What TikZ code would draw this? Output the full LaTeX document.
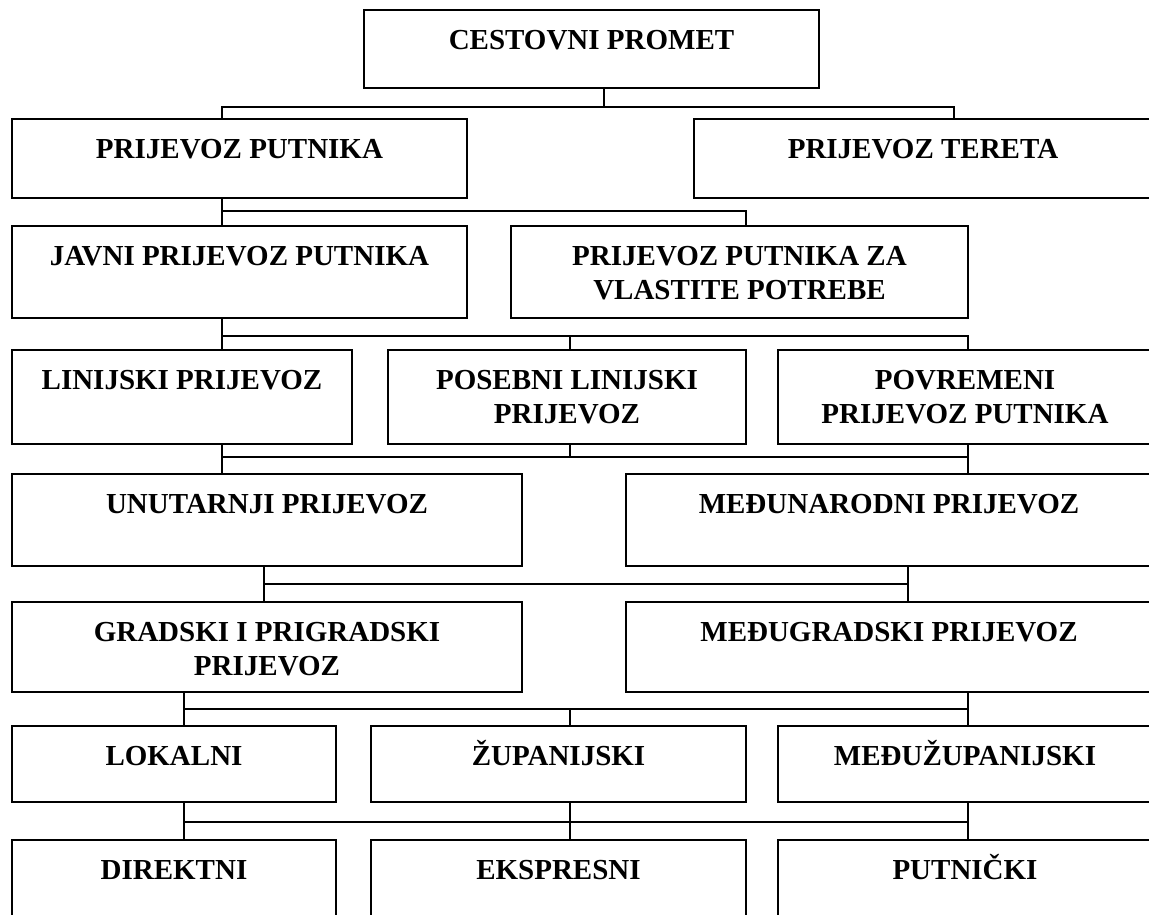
\documentclass[tikz,border=0pt]{standalone}
\usepackage{fontspec}
\setmainfont{Liberation Serif}
\usepackage{tikz}

\tikzset{
  box/.style={draw, line width=1.5pt, anchor=north west, inner sep=0pt, outer sep=0pt},
  txt/.style={anchor=north, inner sep=0pt, yshift=-20pt, align=center,
    font=\fontsize{29}{34}\selectfont\bfseries},
  conn/.style={line width=1.2pt}
}

\begin{document}
\begin{tikzpicture}[x=1pt, y=-1pt]
  \clip (0,0) rectangle (1149,914);
  \node[box, minimum width=455pt, minimum height=78pt, label={[txt]north:CESTOVNI PROMET}] (cp) at (364,10) {};
  \node[box, minimum width=455pt, minimum height=79pt, label={[txt]north:PRIJEVOZ PUTNIKA}] (pp) at (12,119) {};
  \node[box, minimum width=458pt, minimum height=79pt, label={[txt]north:PRIJEVOZ TERETA}] (pt) at (694,119) {};
  \node[box, minimum width=455pt, minimum height=92pt, label={[txt]north:JAVNI PRIJEVOZ PUTNIKA}] (jpp) at (12,226) {};
  \node[box, minimum width=457pt, minimum height=92pt, label={[txt]north:PRIJEVOZ PUTNIKA ZA\\VLASTITE POTREBE}] (vp) at (511,226) {};
  \node[box, minimum width=340pt, minimum height=94pt, label={[txt]north:LINIJSKI PRIJEVOZ}] (lin) at (12,350) {};
  \node[box, minimum width=358pt, minimum height=94pt, label={[txt]north:POSEBNI LINIJSKI\\PRIJEVOZ}] (plin) at (388,350) {};
  \node[box, minimum width=374pt, minimum height=94pt, label={[txt]north:POVREMENI\\PRIJEVOZ PUTNIKA}] (pov) at (778,350) {};
  \node[box, minimum width=510pt, minimum height=92pt, label={[txt]north:UNUTARNJI PRIJEVOZ}] (unu) at (12,474) {};
  \node[box, minimum width=526pt, minimum height=92pt, label={[txt]north:MEĐUNARODNI PRIJEVOZ}] (med) at (626,474) {};
  \node[box, minimum width=510pt, minimum height=90pt, label={[txt]north:GRADSKI I PRIGRADSKI\\PRIJEVOZ}] (grad) at (12,602) {};
  \node[box, minimum width=526pt, minimum height=90pt, label={[txt]north:MEĐUGRADSKI PRIJEVOZ}] (mgr) at (626,602) {};
  \node[box, minimum width=324pt, minimum height=76pt, label={[txt]north:LOKALNI}] (lok) at (12,726) {};
  \node[box, minimum width=375pt, minimum height=76pt, label={[txt, text height=19pt]north:ŽUPANIJSKI}] (zup) at (371,726) {};
  \node[box, minimum width=374pt, minimum height=76pt, label={[txt, text height=19pt]north:MEĐUŽUPANIJSKI}] (mzup) at (778,726) {};
  \node[box, minimum width=324pt, minimum height=90pt, label={[txt]north:DIREKTNI}] (dir) at (12,840) {};
  \node[box, minimum width=375pt, minimum height=90pt, label={[txt]north:EKSPRESNI}] (eks) at (371,840) {};
  \node[box, minimum width=374pt, minimum height=90pt, label={[txt, text height=19pt]north:PUTNIČKI}] (put) at (778,840) {};

  % bus corners
  \coordinate (a1) at (222,107); \coordinate (a2) at (604,107); \coordinate (a3) at (954,107);
  \coordinate (b1) at (222,211); \coordinate (b2) at (746,211);
  \coordinate (c1) at (222,336); \coordinate (c2) at (570,336); \coordinate (c3) at (968,336);
  \coordinate (d1) at (222,457); \coordinate (d2) at (570,457); \coordinate (d3) at (968,457);
  \coordinate (e1) at (264,584); \coordinate (e2) at (908,584);
  \coordinate (f1) at (184,709); \coordinate (f2) at (570,709); \coordinate (f3) at (968,709);
  \coordinate (g1) at (184,822); \coordinate (g2) at (570,822); \coordinate (g3) at (968,822);

  % Connect the nodes
  \draw[conn] (a2 |- cp.south) -- (a2);
  \draw[conn] (a1 |- pp.north) -- (a1) -- (a3) -- (a3 |- pt.north);
  \draw[conn] (b1 |- pp.south) -- (b1 |- jpp.north);
  \draw[conn] (b1) -- (b2) -- (b2 |- vp.north);
  \draw[conn] (c1 |- jpp.south) -- (c1 |- lin.north);
  \draw[conn] (c1) -- (c3) -- (c3 |- pov.north);
  \draw[conn] (c2) -- (c2 |- plin.north);
  \draw[conn] (d1 |- lin.south) -- (d1 |- unu.north);
  \draw[conn] (d2 |- plin.south) -- (d2);
  \draw[conn] (d3 |- pov.south) -- (d3 |- med.north);
  \draw[conn] (d1) -- (d3);
  \draw[conn] (e1 |- unu.south) -- (e1 |- grad.north);
  \draw[conn] (e2 |- med.south) -- (e2 |- mgr.north);
  \draw[conn] (e1) -- (e2);
  \draw[conn] (f1 |- grad.south) -- (f1 |- lok.north);
  \draw[conn] (f3 |- mgr.south) -- (f3 |- mzup.north);
  \draw[conn] (f1) -- (f3);
  \draw[conn] (f2) -- (f2 |- zup.north);
  \draw[conn] (g1 |- lok.south) -- (g1 |- dir.north);
  \draw[conn] (g2 |- zup.south) -- (g2 |- eks.north);
  \draw[conn] (g3 |- mzup.south) -- (g3 |- put.north);
  \draw[conn] (g1) -- (g3);
\end{tikzpicture}
\end{document}
